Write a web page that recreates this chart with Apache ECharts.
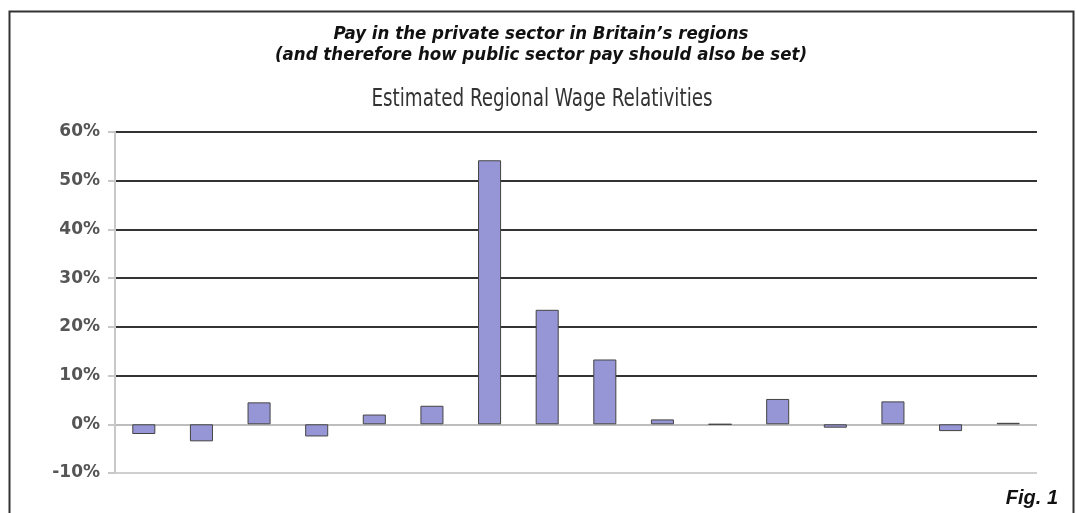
<!DOCTYPE html>
<html><head><meta charset="utf-8">
<script src="https://cdn.jsdelivr.net/npm/echarts@6/dist/echarts.min.js"></script>
<style>html,body{margin:0;padding:0;background:#fff}#c{width:1076px;height:513px}</style>
</head><body><div id="c"></div>
<script>
const categories = ['R1','R2','R3','R4','R5','R6','R7','R8','R9','R10','R11','R12','R13','R14','R15','R16'];
const values = [-2.0, -3.5, 4.5, -2.5, 2.0, 3.8, 54.2, 23.5, 13.3, 1.0, 0, 5.2, -0.7, 4.7, -1.4, 0.3];
const yTicks = { min: -10, max: 60, interval: 10 };
const titleMain = 'Pay in the private sector in Britain\u2019s regions';
const titleSub = '(and therefore how public sector pay should also be set)';
const chartTitle = 'Estimated Regional Wage Relativities';
const figLabel = 'Fig. 1';

const chart = echarts.init(document.getElementById('c'), null, {renderer: 'canvas'});
const titleFont = 'italic bold 18.5px "DejaVu Sans Condensed", "DejaVu Sans", sans-serif';
chart.setOption({
  backgroundColor: '#fff',
  animation: false,
  graphic: [
    {type: 'rect', shape: {x: 9.5, y: 11.5, width: 1064, height: 520}, style: {fill: 'none', stroke: '#333', lineWidth: 2}, z: 0},
    {type: 'text', x: 541, y: 34, style: {text: titleMain, font: titleFont, fill: '#111', textAlign: 'center', textVerticalAlign: 'middle'}},
    {type: 'text', x: 541, y: 55, style: {text: titleSub, font: titleFont, fill: '#111', textAlign: 'center', textVerticalAlign: 'middle'}},
    {type: 'text', x: 542, y: 100, scaleX: 0.85, style: {text: chartTitle, font: '24px "DejaVu Sans Condensed", "DejaVu Sans", sans-serif', fill: '#333', textAlign: 'center', textVerticalAlign: 'middle'}},
    {type: 'text', x: 1058, y: 498, style: {text: figLabel, font: 'italic bold 20px "Liberation Sans", Arial, sans-serif', fill: '#111', textAlign: 'right', textVerticalAlign: 'middle'}}
  ],
  grid: {left: 115, right: 39, top: 132, bottom: 40},
  xAxis: {
    type: 'category', data: categories,
    axisLine: {show: false}, axisTick: {show: false}, axisLabel: {show: false}
  },
  yAxis: {
    type: 'value', min: yTicks.min, max: yTicks.max, interval: yTicks.interval,
    axisLine: {show: true, lineStyle: {color: '#c8c8c8', width: 2}},
    axisTick: {show: true, length: 7, lineStyle: {color: '#c8c8c8', width: 2}},
    axisLabel: {formatter: '{value}%', color: '#555', fontSize: 17, fontWeight: 'bold', fontFamily: '"DejaVu Sans", sans-serif', margin: 15},
    splitLine: {show: true, lineStyle: {color: ['#cfcfcf', '#bdbdbd', '#333', '#333', '#333', '#333', '#333', '#333'], width: 2}}
  },
  series: [{
    type: 'bar', data: values, barWidth: '40%',
    itemStyle: {color: '#9696d6', borderColor: '#444', borderWidth: 1}
  }]
});
</script></body></html>
